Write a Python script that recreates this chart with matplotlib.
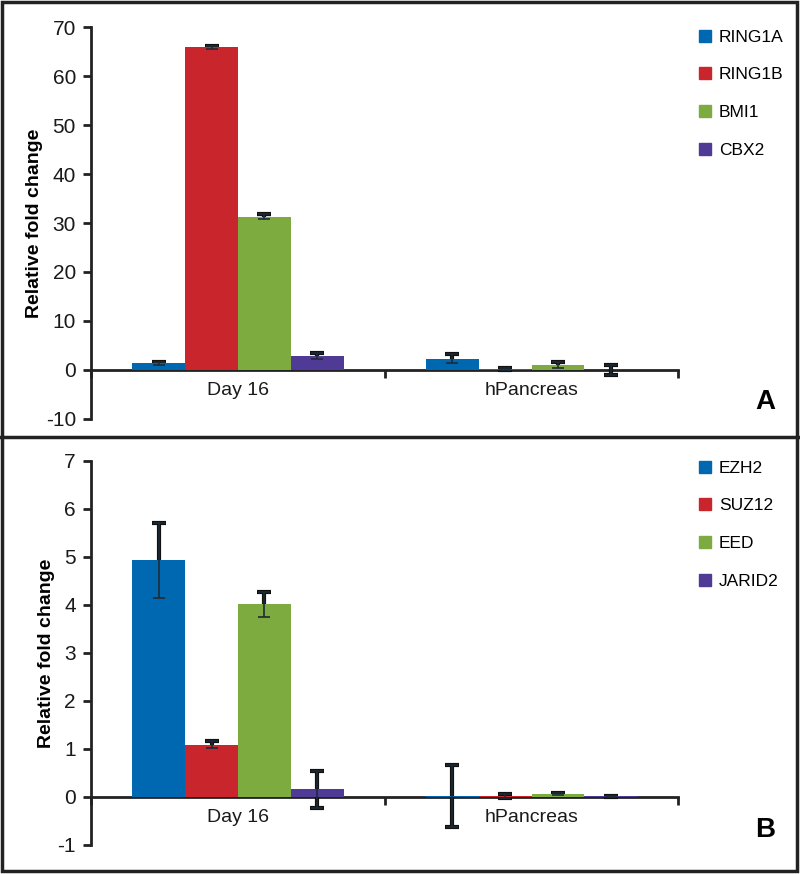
import numpy as np
import matplotlib

matplotlib.use("Agg")
import matplotlib.pyplot as plt
from matplotlib.lines import Line2D
from matplotlib.patches import Rectangle

plt.rcParams["font.family"] = ["Liberation Sans", "DejaVu Sans"]

GROUPS = ["Day 16", "hPancreas"]
COLORS = ["#0068b0", "#c9252c", "#7eab3f", "#4f3a96"]

# panel A
GENES_A = ["RING1A", "RING1B", "BMI1", "CBX2"]
VALS_A = [[1.35, 65.9, 31.3, 2.9], [2.3, 0.2, 1.1, -0.05]]
ERRS_A = [[0.3, 0.3, 0.5, 0.6], [0.9, 0.2, 0.6, 1.0]]

# panel B
GENES_B = ["EZH2", "SUZ12", "EED", "JARID2"]
VALS_B = [[4.93, 1.09, 4.01, 0.16], [0.02, 0.02, 0.07, 0.01]]
ERRS_B = [[0.78, 0.08, 0.27, 0.38], [0.64, 0.05, 0.02, 0.01]]

BAR_W = 0.18


def draw_panel(ax, genes, vals, errs, ylim, ystep, letter, leg_y, letter_y):
    vals = np.array(vals)
    errs = np.array(errs)
    x = np.arange(len(GROUPS))
    for i, g in enumerate(genes):
        xs = x - 1.5 * BAR_W + i * BAR_W
        ax.bar(xs, vals[:, i], BAR_W, color=COLORS[i], zorder=2, label=g,
               edgecolor="none")
        # thick bar behind the bars, thin one on top
        ax.errorbar(xs, vals[:, i], yerr=errs[:, i], fmt="none", ecolor="#111111",
                    elinewidth=3, capsize=5, capthick=3, zorder=1)
        ax.errorbar(xs, vals[:, i], yerr=errs[:, i], fmt="none", ecolor="#1d2b36",
                    elinewidth=1.2, capsize=4, capthick=1.2, zorder=3)

    ax.set_xlim(-0.5, 1.5)
    ax.set_ylim(*ylim)
    ax.set_yticks(np.arange(ylim[0], ylim[1] + ystep / 2, ystep))
    ax.set_yticklabels([f"{v:g}" for v in ax.get_yticks()])
    for s in ["top", "right"]:
        ax.spines[s].set_visible(False)
    ax.spines["left"].set_linewidth(2)
    ax.spines["left"].set_color("#222222")
    ax.spines["bottom"].set_position(("data", 0))
    ax.spines["bottom"].set_linewidth(2)
    ax.spines["bottom"].set_color("#222222")
    ax.spines["bottom"].set_zorder(0)
    ax.set_xticks(x)
    ax.set_xticklabels(GROUPS, fontsize=14, color="#1a1a1a")
    ax.tick_params(axis="x", length=0, pad=9)
    ax.set_xticks([-0.5, 0.5, 1.5], minor=True)
    ax.tick_params(axis="x", which="minor", length=6, width=2, direction="out",
                   color="#222222")
    ax.tick_params(axis="y", length=6, width=2, direction="out", color="#222222",
                   labelsize=15, pad=5, labelcolor="#1a1a1a")
    ax.set_ylabel("Relative fold change", fontsize=14, fontweight="bold", labelpad=2)

    handles = [Line2D([], [], ls="none", marker="s", ms=8, color=c) for c in COLORS]
    ax.figure.legend(handles, genes, loc="upper left", bbox_to_anchor=(0.853, leg_y),
                     frameon=False, fontsize=12.5, handlelength=0.8, handletextpad=0.4,
                     labelspacing=1.3)
    ax.figure.text(0.957, letter_y, letter, fontsize=20, fontweight="bold",
                   ha="center", va="center")


fig = plt.figure(figsize=(8, 8.74), dpi=100)
axA = fig.add_axes([0.114, 0.5206, 0.734, 0.4485])
axB = fig.add_axes([0.114, 0.0332, 0.734, 0.4394])

draw_panel(axA, GENES_A, VALS_A, ERRS_A, (-10, 70), 10, "A", 0.984, 1 - 402 / 874)
draw_panel(axB, GENES_B, VALS_B, ERRS_B, (-1, 7), 1, "B", 0.491, 1 - 830 / 874)

# frame and separator
fig.add_artist(Rectangle((0.002, 0.003), 0.994, 0.995, transform=fig.transFigure,
                         fill=False, lw=2.5, ec="#222222"))
fig.add_artist(Line2D([0, 1], [1 - 437 / 874] * 2, transform=fig.transFigure,
                      lw=2.5, color="#222222"))

fig.savefig("out.png", dpi=100)
